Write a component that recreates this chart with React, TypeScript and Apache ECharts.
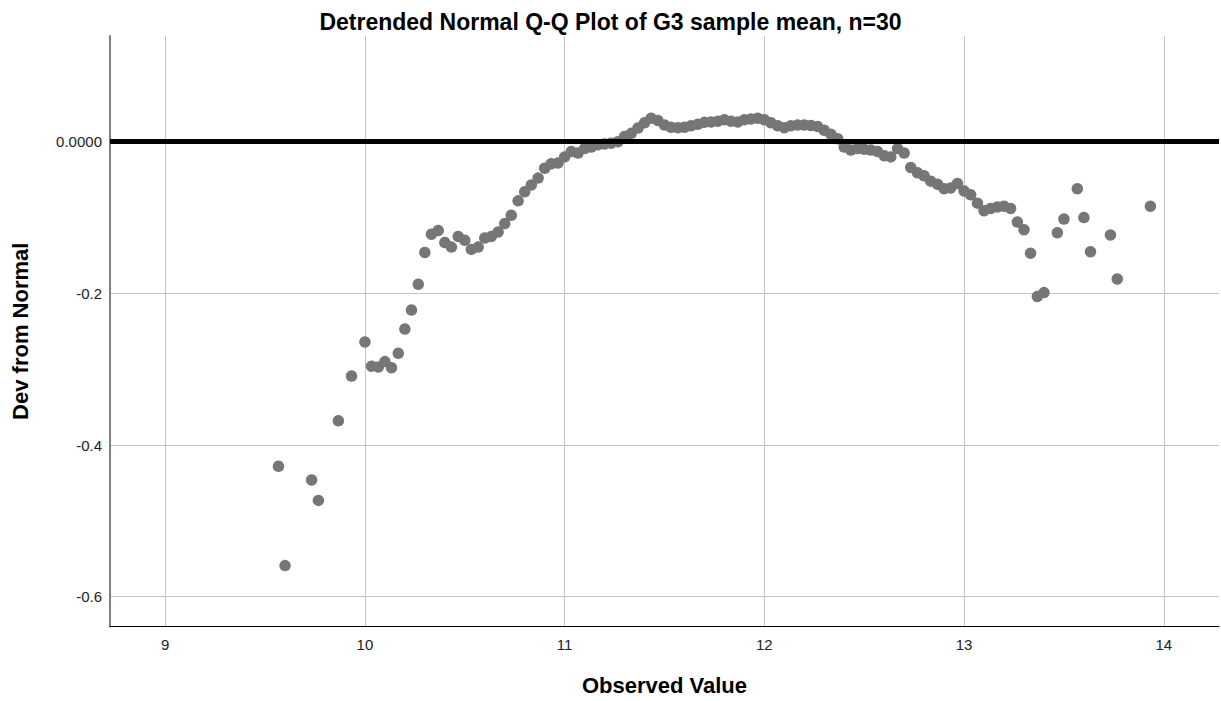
import React, { useEffect, useRef } from "react";
import * as echarts from "echarts";

const titleText = "Detrended Normal Q-Q Plot of G3 sample mean, n=30";
const xAxisName = "Observed Value";
const yAxisName = "Dev from Normal";

const observed = [
  9.567, 9.6, 9.733, 9.767, 9.867, 9.933, 10.0, 10.033, 10.067, 10.1,
  10.133, 10.167, 10.2, 10.233, 10.267, 10.3, 10.333, 10.367, 10.4, 10.433,
  10.467, 10.5, 10.533, 10.567, 10.6, 10.633, 10.667, 10.7, 10.733, 10.767,
  10.8, 10.833, 10.867, 10.9, 10.933, 10.967, 11.0, 11.033, 11.067, 11.1,
  11.133, 11.167, 11.2, 11.233, 11.267, 11.3, 11.333, 11.367, 11.4, 11.433,
  11.467, 11.5, 11.533, 11.567, 11.6, 11.633, 11.667, 11.7, 11.733, 11.767,
  11.8, 11.833, 11.867, 11.9, 11.933, 11.967, 12.0, 12.033, 12.067, 12.1,
  12.133, 12.167, 12.2, 12.233, 12.267, 12.3, 12.333, 12.367, 12.4, 12.433,
  12.467, 12.5, 12.533, 12.567, 12.6, 12.633, 12.667, 12.7, 12.733, 12.767,
  12.8, 12.833, 12.867, 12.9, 12.933, 12.967, 13.0, 13.033, 13.067, 13.1,
  13.133, 13.167, 13.2, 13.233, 13.267, 13.3, 13.333, 13.367, 13.4, 13.467,
  13.5, 13.567, 13.6, 13.633, 13.733, 13.767, 13.933,
];

const deviation = [
  -0.428, -0.559, -0.446, -0.473, -0.368, -0.309, -0.264, -0.296, -0.297, -0.29,
  -0.298, -0.279, -0.247, -0.222, -0.188, -0.146, -0.122, -0.117, -0.133, -0.139,
  -0.125, -0.13, -0.142, -0.139, -0.127, -0.125, -0.119, -0.108, -0.097, -0.078,
  -0.066, -0.057, -0.048, -0.035, -0.029, -0.028, -0.02, -0.013, -0.015, -0.009,
  -0.007, -0.004, -0.003, -0.002, 0.0, 0.007, 0.011, 0.018, 0.025, 0.031,
  0.028, 0.022, 0.019, 0.0185, 0.019, 0.021, 0.023, 0.0255, 0.026, 0.027,
  0.029, 0.027, 0.026, 0.029, 0.03, 0.031, 0.029, 0.025, 0.021, 0.0185,
  0.021, 0.022, 0.022, 0.0215, 0.02, 0.015, 0.01, 0.004, -0.007, -0.011,
  -0.009, -0.01, -0.011, -0.013, -0.0185, -0.02, -0.009, -0.015, -0.034, -0.041,
  -0.045, -0.052, -0.056, -0.062, -0.061, -0.055, -0.065, -0.07, -0.081, -0.091,
  -0.088, -0.086, -0.085, -0.088, -0.106, -0.116, -0.147, -0.204, -0.199, -0.12,
  -0.102, -0.062, -0.1, -0.145, -0.123, -0.181, -0.085,
];

const referenceLevel = 0;

export default function App() {
  const ref = useRef<HTMLDivElement>(null);

  useEffect(() => {
    if (!ref.current) return;
    const chart = echarts.init(ref.current, null, { renderer: "svg" });
    const fontFamily = "'Liberation Sans', Arial, Helvetica, sans-serif";
    const points = observed.map((x, i) => [x, deviation[i]]);

    chart.setOption({
      animation: false,
      title: {
        text: titleText,
        left: "center",
        top: 5,
        textStyle: { fontSize: 23, fontWeight: "bold", color: "#000", fontFamily },
      },
      grid: { left: 110, right: 2, top: 36, bottom: 74.5, containLabel: false, outerBoundsMode: "none" },
      xAxis: {
        type: "value",
        min: 8.7235,
        max: 14.2765,
        name: xAxisName,
        nameLocation: "middle",
        nameGap: 48,
        nameTextStyle: { fontSize: 22, fontWeight: "bold", color: "#000", fontFamily },
        axisLine: { show: true, onZero: false, lineStyle: { color: "#000", width: 1 } },
        axisTick: { show: false },
        axisLabel: {
          color: "#222",
          fontSize: 15,
          fontFamily,
          margin: 10,
          showMinLabel: false,
          showMaxLabel: false,
          formatter: (v: number) =>
            Math.abs(v - Math.round(v)) < 1e-6 ? String(Math.round(v)) : "",
        },
        splitLine: {
          show: true,
          showMinLine: false,
          showMaxLine: false,
          lineStyle: { color: "#c4c4c4", width: 1 },
        },
      },
      yAxis: {
        type: "value",
        min: -0.6393,
        max: 0.1394,
        name: yAxisName,
        nameLocation: "middle",
        nameGap: 79,
        nameTextStyle: { fontSize: 22, fontWeight: "bold", color: "#000", fontFamily },
        axisLine: { show: true, lineStyle: { color: "#808080", width: 2 } },
        axisTick: { show: false },
        axisLabel: {
          color: "#222",
          fontSize: 15,
          fontFamily,
          margin: 8,
          showMinLabel: false,
          showMaxLabel: false,
          formatter: (v: number) => {
            const k = v / 0.2;
            if (Math.abs(k - Math.round(k)) > 1e-6) return "";
            if (Math.abs(v) < 1e-9) return "0.0000";
            return v.toFixed(1);
          },
        },
        splitLine: {
          show: true,
          showMinLine: false,
          showMaxLine: false,
          lineStyle: { color: "#c4c4c4", width: 1 },
        },
      },
      series: [
        {
          type: "scatter",
          data: points,
          symbol: "circle",
          symbolSize: 11.5,
          itemStyle: { color: "#767676", opacity: 1 },
          emphasis: { disabled: true },
          markLine: {
            silent: true,
            symbol: ["none", "none"],
            label: { show: false },
            lineStyle: { color: "#000", width: 5, type: "solid" },
            emphasis: { disabled: true },
            data: [{ yAxis: referenceLevel }],
          },
        },
      ],
    });

    return () => chart.dispose();
  }, []);

  return (
    <div
      ref={ref}
      style={{ position: "absolute", left: 0, top: 0, width: 1221, height: 701 }}
    />
  );
}
